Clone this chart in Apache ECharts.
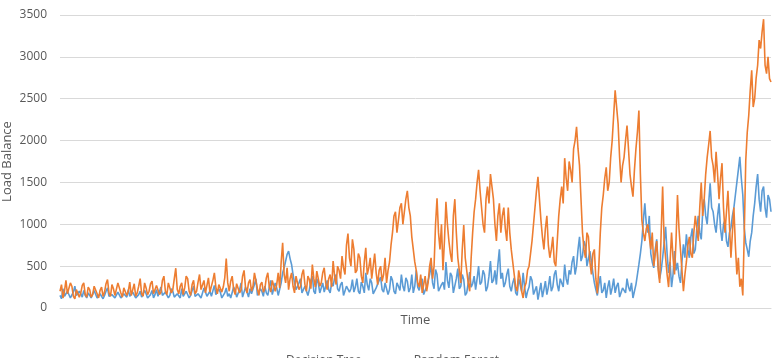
<!DOCTYPE html>
<html>
<head>
<meta charset="utf-8">
<script src="https://cdn.jsdelivr.net/npm/echarts@6/dist/echarts.min.js"></script>
<style>
  html, body { margin: 0; padding: 0; background: #fff; }
  #chart { width: 782px; height: 358px; }
</style>
</head>
<body>
<div id="chart"></div>
<script>
  const seriesNames = ["Decision Tree", "Random Forest"];
  const yTicks = [0, 500, 1000, 1500, 2000, 2500, 3000, 3500];

  // Decision Tree load balance
  const decisionTree = [
    150, 110, 230, 140, 120, 200, 180, 120, 140, 190, 260, 150, 130, 200, 170, 130, 210, 150, 120, 180,
    160, 120, 140, 210, 200, 120, 130, 170, 180, 110, 150, 200, 240, 140, 120, 160, 170, 120, 140, 190,
    190, 120, 130, 170, 160, 130, 220, 140, 140, 190, 180, 120, 120, 160, 200, 130, 150, 210, 170, 120,
    130, 160, 210, 120, 160, 220, 140, 120, 250, 150, 130, 190, 180, 120, 150, 230, 200, 130, 140, 170,
    170, 120, 230, 140, 130, 200, 190, 120, 150, 210, 260, 140, 140, 170, 180, 120, 130, 240, 220, 140,
    160, 200, 140, 120, 270, 160, 150, 230, 190, 120, 130, 180, 240, 140, 170, 120, 140, 250, 210, 130,
    150, 220, 300, 130, 140, 250, 190, 130, 230, 170, 160, 280, 350, 150, 140, 230, 200, 140, 260, 180,
    150, 250, 330, 160, 180, 300, 240, 150, 170, 300, 420, 480, 560, 640, 680, 590, 520, 400, 300, 220,
    200, 300, 350, 180, 160, 260, 280, 150, 220, 330, 380, 200, 170, 350, 300, 180, 240, 300, 190, 260,
    330, 220, 180, 300, 260, 360, 400, 230, 200, 280, 310, 150, 170, 260, 280, 190, 230, 340, 190, 250,
    350, 200, 170, 310, 260, 180, 420, 280, 210, 350, 300, 170, 160, 240, 250, 330, 370, 220, 190, 300,
    280, 160, 220, 380, 330, 200, 170, 300, 260, 210, 400, 260, 200, 360, 320, 190, 240, 400, 180, 260,
    450, 250, 210, 320, 350, 160, 170, 260, 280, 400, 520, 300, 230, 460, 400, 200, 180, 280, 310, 220,
    550, 330, 240, 420, 380, 180, 200, 350, 470, 230, 260, 400, 340, 150, 180, 300, 430, 250, 290, 380,
    220, 350, 500, 280, 310, 450, 400, 200, 250, 380, 560, 300, 330, 450, 280, 520, 700, 350, 420, 250,
    300, 400, 470, 260, 200, 300, 360, 180, 150, 350, 280, 200, 420, 250, 120, 200, 250, 380, 330, 160,
    180, 260, 100, 200, 300, 130, 220, 320, 160, 250, 380, 200, 250, 400, 450, 280, 200, 350, 330, 250,
    520, 350, 280, 450, 400, 550, 620, 400, 500, 700, 850, 560, 620, 800, 740, 500, 480, 680, 560, 420,
    300, 220, 150, 280, 380, 180, 210, 300, 120, 250, 330, 160, 240, 350, 180, 260, 300, 130, 150, 240,
    260, 180, 350, 250, 200, 300, 120, 200, 280, 400, 520, 650, 800, 1050, 1250, 1000, 900, 1100, 650, 550,
    480, 700, 820, 500, 350, 450, 600, 780, 970, 650, 420, 550, 250, 400, 680, 450, 540, 380, 300, 550,
    760, 600, 880, 700, 600, 850, 950, 650, 700, 950, 1100, 900, 820, 1150, 1300, 1100, 1000, 1250, 1490, 1200,
    1150, 1000, 900, 1100, 1250, 950, 800, 1000, 1050, 800, 730, 900, 960, 1100, 1200, 1350, 1500, 1650, 1805, 1550,
    1350, 950, 780, 700, 612, 800, 900, 1100, 1250, 1450, 1600, 1300, 1150, 1400, 1450, 1200, 1080, 1350, 1300, 1150
  ];

  // Random Forest load balance
  const randomForest = [
    200, 280, 120, 200, 330, 170, 150, 300, 260, 140, 110, 220, 240, 130, 180, 270, 300, 160, 130, 250,
    220, 130, 160, 260, 280, 170, 120, 210, 250, 140, 190, 290, 340, 180, 140, 280, 230, 150, 170, 300,
    310, 180, 130, 240, 260, 150, 200, 310, 150, 220, 290, 140, 180, 260, 350, 170, 140, 300, 240, 160,
    200, 290, 320, 170, 150, 270, 260, 160, 190, 330, 380, 200, 160, 300, 280, 180, 220, 350, 475, 220,
    170, 260, 300, 160, 240, 380, 350, 200, 150, 280, 330, 170, 200, 310, 400, 220, 230, 330, 180, 270,
    360, 190, 210, 330, 420, 250, 170, 280, 300, 190, 250, 360, 590, 300, 200, 320, 380, 220, 160, 290,
    300, 180, 220, 380, 450, 240, 180, 300, 340, 200, 260, 420, 400, 230, 150, 280, 310, 190, 230, 360,
    420, 250, 190, 330, 350, 200, 280, 420, 240, 550, 780, 400, 300, 480, 220, 350, 420, 260, 180, 380,
    380, 220, 260, 400, 460, 280, 200, 380, 340, 230, 520, 350, 250, 440, 430, 260, 300, 420, 480, 300,
    220, 350, 400, 250, 560, 380, 280, 500, 450, 350, 620, 480, 400, 750, 890, 600, 500, 820, 700, 420,
    450, 650, 600, 380, 300, 550, 720, 400, 480, 600, 350, 500, 650, 420, 280, 450, 500, 320, 400, 600,
    300, 450, 550, 750, 900, 1100, 1150, 900, 1050, 1200, 1250, 1000, 1000, 1300, 1400, 1200, 1100, 850, 700, 550,
    450, 300, 250, 400, 180, 280, 380, 200, 300, 500, 600, 350, 500, 1000, 1310, 900, 700, 1000, 450, 800,
    1270, 1000, 800, 650, 550, 1100, 1300, 900, 600, 450, 300, 700, 990, 600, 450, 300, 200, 600, 900, 1150,
    1300, 1500, 1650, 1400, 1200, 1000, 900, 1300, 1450, 1250, 1600, 1450, 1300, 1000, 800, 1100, 1250, 900, 1100, 1200,
    950, 800, 1200, 900, 700, 550, 400, 250, 200, 450, 350, 200, 120, 250, 300, 450, 500, 650, 800, 1000,
    1200, 1400, 1566, 1300, 1050, 850, 700, 950, 1100, 750, 600, 700, 850, 550, 500, 800, 1100, 1300, 1450, 1250,
    1790, 1550, 1400, 1750, 1650, 1500, 1900, 2000, 2163, 1900, 1700, 1300, 900, 700, 600, 900, 850, 550, 400, 650,
    700, 350, 175, 500, 900, 1200, 1350, 1550, 1680, 1400, 1500, 1800, 2000, 2300, 2600, 2400, 2200, 1800, 1500, 1700,
    1800, 2000, 2180, 1900, 1600, 1450, 1330, 1650, 1900, 2100, 2360, 1600, 1050, 900, 800, 950, 1000, 850, 700, 900,
    500, 650, 800, 450, 300, 900, 1450, 800, 600, 400, 250, 550, 900, 600, 400, 800, 1350, 950, 700, 450,
    200, 400, 550, 750, 850, 650, 600, 900, 1100, 950, 800, 1200, 1500, 1100, 1300, 1600, 1800, 1950, 2115, 1800,
    1700, 1500, 1865, 1600, 1300, 1550, 1730, 1200, 900, 1150, 1400, 1000, 600, 900, 1200, 750, 400, 600, 254, 350,
    150, 900, 1765, 2100, 2300, 2600, 2840, 2400, 2500, 2750, 2900, 3200, 3100, 3300, 3450, 2900, 2800, 3000, 2740, 2700
  ];

  const timeSteps = decisionTree.map((v, i) => i + 1);

  const textColor = "#595959";
  const gridColor = "#d9d9d9";
  const font = "Open Sans";

  var myChart = echarts.init(document.getElementById("chart"));
  myChart.setOption({
    animation: false,
    color: ["#5b9bd5", "#ed7d31"],
    grid: {
      left: 60,
      right: 11,
      top: 15,
      bottom: 50,
      outerBoundsMode: "none",
    },
    legend: {
      data: seriesNames,
      top: 350,
      left: 246,
      icon: "rect",
      itemWidth: 30,
      itemHeight: 2,
      itemGap: 17,
      textStyle: { color: textColor, fontSize: 12, fontFamily: font },
    },
    xAxis: {
      type: "category",
      data: timeSteps,
      boundaryGap: false,
      name: "Time",
      nameLocation: "middle",
      nameGap: 6,
      nameTextStyle: { color: textColor, fontSize: 13, fontFamily: font },
      axisLine: { lineStyle: { color: gridColor } },
      axisTick: { show: false },
      axisLabel: { show: false },
    },
    yAxis: {
      type: "value",
      min: yTicks[0],
      max: yTicks[yTicks.length - 1],
      interval: yTicks[1] - yTicks[0],
      name: "Load Balance",
      nameLocation: "middle",
      nameGap: 46,
      nameMoveOverlap: false,
      nameTextStyle: { color: textColor, fontSize: 13, fontFamily: font },
      axisLine: { show: false },
      axisTick: { show: false },
      axisLabel: {
        color: textColor,
        fontSize: 12,
        fontFamily: font,
        margin: 13,
        formatter: (v) => String(v),
      },
      splitLine: { lineStyle: { color: gridColor, width: 1 } },
    },
    series: [
      {
        name: seriesNames[0],
        type: "line",
        data: decisionTree,
        symbol: "none",
        lineStyle: { width: 1.6 },
      },
      {
        name: seriesNames[1],
        type: "line",
        data: randomForest,
        symbol: "none",
        lineStyle: { width: 1.6 },
      },
    ],
  });

  window.addEventListener("resize", () => {
    myChart.resize();
  });
</script>
</body>
</html>
